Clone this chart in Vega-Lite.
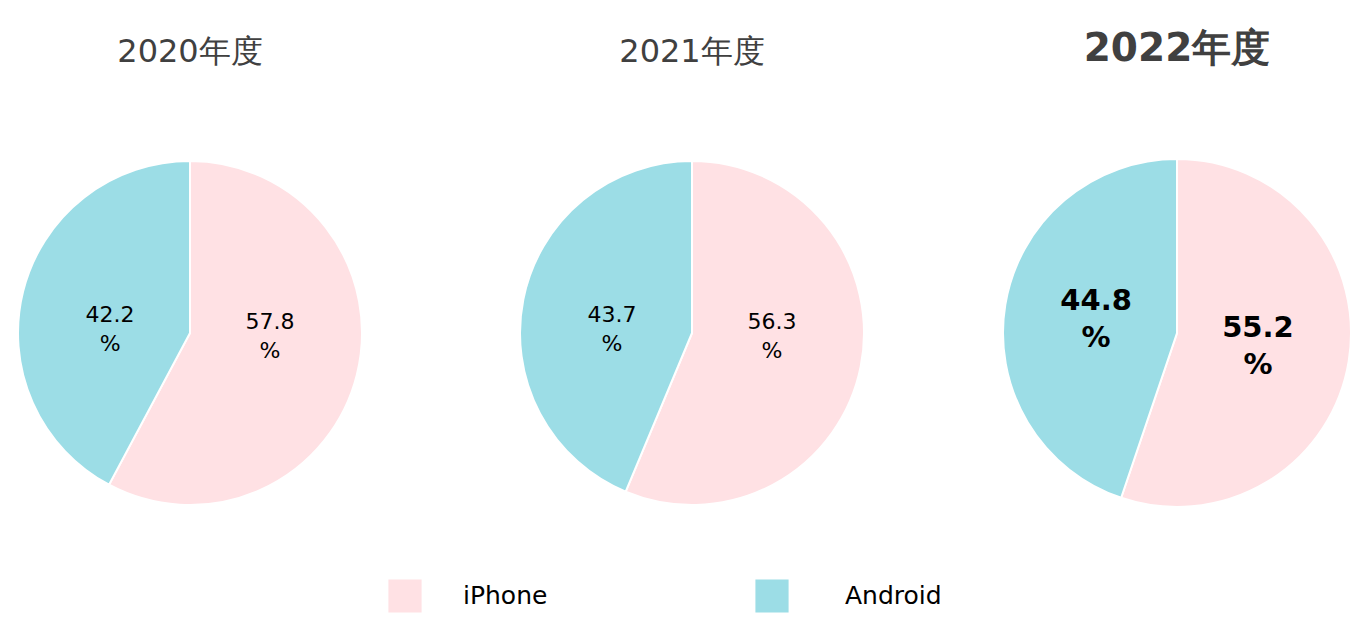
{
  "$schema": "https://vega.github.io/schema/vega-lite/v6.json",
  "background": "white",
  "padding": {"left": 0, "top": 30, "right": 0, "bottom": 0},
  "config": {"view": {"stroke": null}, "font": "DejaVu Sans"},
  "datasets": {
    "shares": [
      {"year": "2020年度", "device": "iPhone", "value": 57.8},
      {"year": "2020年度", "device": "Android", "value": 42.2},
      {"year": "2021年度", "device": "iPhone", "value": 56.3},
      {"year": "2021年度", "device": "Android", "value": 43.7},
      {"year": "2022年度", "device": "iPhone", "value": 55.2},
      {"year": "2022年度", "device": "Android", "value": 44.8}
    ]
  },
  "spacing": 57,
  "vconcat": [
    {
      "spacing": 0,
      "bounds": "flush",
      "hconcat": [
        {
          "width": 380, "height": 372,
          "title": {"text": "2020年度", "fontSize": 32, "fontWeight": "normal", "color": "#404040", "offset": 78},
          "data": {"name": "shares"},
          "transform": [{"filter": "datum.year == '2020年度'"}],
          "encoding": {
            "theta": {"field": "value", "type": "quantitative", "stack": true},
            "order": {"field": "value", "type": "quantitative", "sort": "descending"}
          },
          "layer": [
            {"mark": {"type": "arc", "radius": 172, "stroke": "white", "strokeWidth": 2},
             "encoding": {"color": {"field": "device", "type": "nominal", "scale": {"domain": ["iPhone", "Android"], "range": ["#FFE1E4", "#9CDDE6"]}, "legend": null}}},
            {"mark": {"type": "text", "radius": 80, "thetaOffset": -0.2, "dy": -14.5, "fontSize": 22, "color": "black"},
             "encoding": {"detail": {"field": "device"}, "text": {"field": "value", "type": "quantitative", "format": ".1f"}}},
            {"mark": {"type": "text", "radius": 80, "thetaOffset": -0.2, "dy": 14.5, "fontSize": 22, "color": "black"},
             "encoding": {"detail": {"field": "device"}, "text": {"value": "%"}}}
          ]
        },
        {
          "width": 624, "height": 372,
          "title": {"text": "2021年度", "fontSize": 32, "fontWeight": "normal", "color": "#404040", "offset": 78},
          "data": {"name": "shares"},
          "transform": [{"filter": "datum.year == '2021年度'"}],
          "encoding": {
            "theta": {"field": "value", "type": "quantitative", "stack": true},
            "order": {"field": "value", "type": "quantitative", "sort": "descending"}
          },
          "layer": [
            {"mark": {"type": "arc", "radius": 172, "stroke": "white", "strokeWidth": 2},
             "encoding": {"color": {"field": "device", "type": "nominal", "scale": {"domain": ["iPhone", "Android"], "range": ["#FFE1E4", "#9CDDE6"]}, "legend": null}}},
            {"mark": {"type": "text", "radius": 80, "thetaOffset": -0.16, "dy": -14.5, "fontSize": 22, "color": "black"},
             "encoding": {"detail": {"field": "device"}, "text": {"field": "value", "type": "quantitative", "format": ".1f"}}},
            {"mark": {"type": "text", "radius": 80, "thetaOffset": -0.16, "dy": 14.5, "fontSize": 22, "color": "black"},
             "encoding": {"detail": {"field": "device"}, "text": {"value": "%"}}}
          ]
        },
        {
          "width": 346, "height": 372,
          "title": {"text": "2022年度", "fontSize": 39, "fontWeight": "bold", "color": "#404040", "offset": 78},
          "data": {"name": "shares"},
          "transform": [{"filter": "datum.year == '2022年度'"}],
          "encoding": {
            "theta": {"field": "value", "type": "quantitative", "stack": true},
            "order": {"field": "value", "type": "quantitative", "sort": "descending"}
          },
          "layer": [
            {"mark": {"type": "arc", "radius": 174, "stroke": "white", "strokeWidth": 2},
             "encoding": {"color": {"field": "device", "type": "nominal", "scale": {"domain": ["iPhone", "Android"], "range": ["#FFE1E4", "#9CDDE6"]}, "legend": null}}},
            {"mark": {"type": "text", "radius": 82, "dy": -18.5, "fontSize": 29, "fontWeight": "bold", "color": "black"},
             "encoding": {"detail": {"field": "device"}, "text": {"field": "value", "type": "quantitative", "format": ".1f"}}},
            {"mark": {"type": "text", "radius": 82, "dy": 18.5, "fontSize": 29, "fontWeight": "bold", "color": "black"},
             "encoding": {"detail": {"field": "device"}, "text": {"value": "%"}}}
          ]
        }
      ]
    },
    {
      "width": 1350, "height": 40,
      "data": {"values": [{"device": "iPhone"}, {"device": "Android"}]},
      "layer": [
        {"mark": {"type": "square", "size": 1100, "opacity": 1},
         "encoding": {
           "x": {"field": "device", "type": "nominal", "scale": {"type": "point", "padding": 0, "domain": ["iPhone", "Android"], "range": [405, 772]}, "axis": null},
           "color": {"field": "device", "type": "nominal", "scale": {"domain": ["iPhone", "Android"], "range": ["#FFE1E4", "#9CDDE6"]}, "legend": null}
         }},
        {"mark": {"type": "text", "align": "left", "fontSize": 25, "color": "black"},
         "encoding": {
           "x": {"field": "device", "type": "nominal", "scale": {"type": "point", "padding": 0, "domain": ["iPhone", "Android"], "range": [463, 845]}, "axis": null},
           "text": {"field": "device"}
         }}
      ],
      "resolve": {"scale": {"x": "independent"}}
    }
  ]
}
